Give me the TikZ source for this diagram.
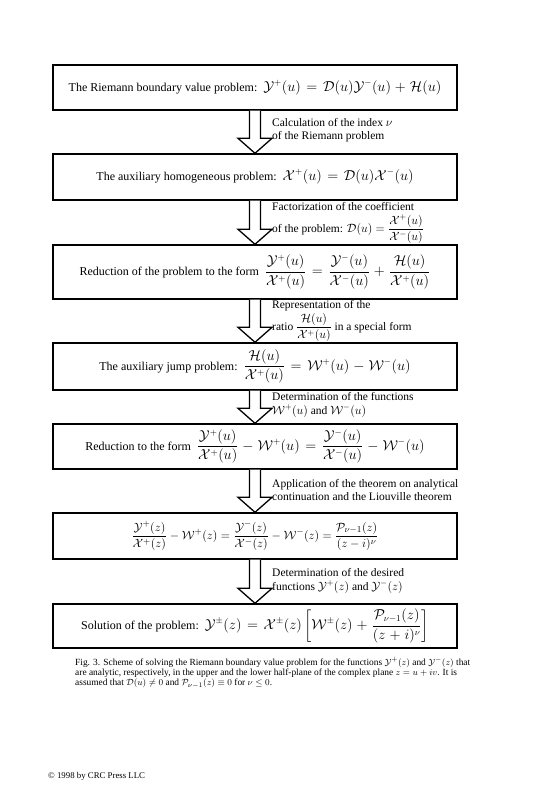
\documentclass[tikz,border=0pt]{standalone}
\usepackage{amsmath,amssymb}
\usepackage{fontspec}
\setmainfont{Liberation Serif}
\usepackage{tikz}
\usetikzlibrary{calc}

\tikzset{
  stagebox/.style={draw, line width=1.4pt, minimum width=404pt, inner sep=0pt,
    font=\fontsize{12}{14}\selectfont},
  arrowshape/.style={draw, line width=1.3pt, fill=white, line join=miter},
  steplabel/.style={anchor=west, align=left, inner sep=0pt,
    font=\fontsize{11.5}{13.5}\selectfont},
}
% formulas in the boxes are set a little larger
\newcommand{\boxmath}[1]{{\fontsize{13.5}{16}\selectfont
  \thickmuskip=7mu plus 3mu \medmuskip=5mu plus 2mu $\displaystyle #1$}}
% block arrow from the bottom of one box to the top of the next
\newcommand{\flowarrow}[2]{%
  \draw[arrowshape] ($(#1.south)+(-5.5,0)$) -- ($(#2.north)+(-5.5,-15)$)
    -- ($(#2.north)+(-17,-15)$) -- (#2.north) -- ($(#2.north)+(17,-15)$)
    -- ($(#2.north)+(5.5,-15)$) -- ($(#1.south)+(5.5,0)$);}

\begin{document}
\begin{tikzpicture}[x=1pt, y=-1pt]
  \useasboundingbox (0,0) rectangle (533,800);
  % the steps
  \node[stagebox, minimum height=45pt] (riemann) at (255,87.5)
    {The Riemann boundary value problem:\enspace
     \boxmath{\mathcal{Y}^{+}(u)=\mathcal{D}(u)\mathcal{Y}^{-}(u)+\mathcal{H}(u)}};
  \node[stagebox, minimum height=46pt] (homog) at (255,177)
    {The auxiliary homogeneous problem:\enspace
     \boxmath{\mathcal{X}^{+}(u)=\mathcal{D}(u)\mathcal{X}^{-}(u)}};
  \node[stagebox, minimum height=54pt] (reduce) at (255,272)
    {Reduction of the problem to the form\enspace
     \boxmath{\frac{\mathcal{Y}^{+}(u)}{\mathcal{X}^{+}(u)}
      =\frac{\mathcal{Y}^{-}(u)}{\mathcal{X}^{-}(u)}
      +\frac{\mathcal{H}(u)}{\mathcal{X}^{+}(u)}}};
  \node[stagebox, minimum height=47pt] (jump) at (255,366.5)
    {The auxiliary jump problem:\enspace
     \boxmath{\frac{\mathcal{H}(u)}{\mathcal{X}^{+}(u)}
      =\mathcal{W}^{+}(u)-\mathcal{W}^{-}(u)}};
  \node[stagebox, minimum height=45pt] (form) at (255,446.5)
    {Reduction to the form\enspace
     \boxmath{\frac{\mathcal{Y}^{+}(u)}{\mathcal{X}^{+}(u)}-\mathcal{W}^{+}(u)
      =\frac{\mathcal{Y}^{-}(u)}{\mathcal{X}^{-}(u)}-\mathcal{W}^{-}(u)}};
  \node[stagebox, minimum height=46pt, font=\fontsize{13}{15}\selectfont] (liouv) at (255,536)
    {$\displaystyle\frac{\mathcal{Y}^{+}(z)}{\mathcal{X}^{+}(z)}-\mathcal{W}^{+}(z)
      =\frac{\mathcal{Y}^{-}(z)}{\mathcal{X}^{-}(z)}-\mathcal{W}^{-}(z)
      =\frac{\mathcal{P}_{\nu-1}(z)}{(z-i)^{\nu}}$};
  \node[stagebox, minimum height=44pt] (solve) at (255,626)
    {Solution of the problem:\enspace
     \boxmath{\mathcal{Y}^{\pm}(z)=\mathcal{X}^{\pm}(z)
      \left[\mathcal{W}^{\pm}(z)+\frac{\mathcal{P}_{\nu-1}(z)}{(z+i)^{\nu}}\right]}};
  % arrows
  \flowarrow{riemann}{homog}
  \flowarrow{homog}{reduce}
  \flowarrow{reduce}{jump}
  \flowarrow{jump}{form}
  \flowarrow{form}{liouv}
  \flowarrow{liouv}{solve}
  % labels of the arrows
  \node[steplabel] (lab1) at (272,130)
    {Calculation of the index $\nu$\\ of the Riemann problem};
  \node[steplabel] (lab2) at (272,223)
    {Factorization of the coefficient\\[3pt]
     of the problem: $\mathcal{D}(u)=\dfrac{\mathcal{X}^{+}(u)}{\mathcal{X}^{-}(u)}$};
  \node[steplabel] (lab3) at (272,321)
    {Representation of the\\[2pt]
     ratio $\dfrac{\mathcal{H}(u)}{\mathcal{X}^{+}(u)}$ in a special form};
  \node[steplabel] (lab4) at (272,405)
    {Determination of the functions\\
     $\mathcal{W}^{+}(u)$ and $\mathcal{W}^{-}(u)$};
  \node[steplabel] (lab5) at (272,490)
    {Application of the theorem on analytical\\
     continuation and the Liouville theorem};
  \node[steplabel] (lab6) at (272,581)
    {Determination of the desired\\
     functions $\mathcal{Y}^{+}(z)$ and $\mathcal{Y}^{-}(z)$};
  % caption and imprint
  \node[anchor=north west, align=left, inner sep=0pt,
        font=\fontsize{9.4}{10.3}\selectfont] (caption) at (75,657)
    {Fig. 3. Scheme of solving the Riemann boundary value problem for the functions
     $\mathcal{Y}^{+}(z)$ and $\mathcal{Y}^{-}(z)$ that\\
     are analytic, respectively, in the upper and the lower half-plane of the complex
     plane $z=u+iv$. It is\\
     assumed that $\mathcal{D}(u)\neq0$ and $\mathcal{P}_{\nu-1}(z)\equiv0$ for $\nu\leq0$.};
  \node[anchor=west, inner sep=0pt, font=\fontsize{8.8}{10}\selectfont] (imprint) at (48,776)
    {\textcopyright{} 1998 by CRC Press LLC};
\end{tikzpicture}
\end{document}
